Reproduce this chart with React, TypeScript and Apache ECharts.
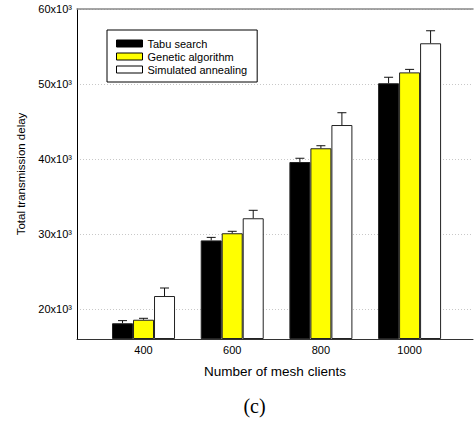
import React, { useEffect, useRef } from "react";
import * as echarts from "echarts";

const categories = [400, 600, 800, 1000];
const seriesNames = ["Tabu search", "Genetic algorithm", "Simulated annealing"];
const tabuValues = [18100, 29150, 39600, 50100];
const tabuErrors = [350, 400, 500, 800];
const gaValues = [18570, 30100, 41430, 51550];
const gaErrors = [190, 260, 340, 400];
const saValues = [21730, 32100, 44530, 55430];
const saErrors = [1070, 1060, 1640, 1670];
const yTicks = [20000, 30000, 40000, 50000, 60000];

const FONT = "'Liberation Sans', Arial, sans-serif";
const BAR_W = 21;

export default function App() {
  const ref = useRef<HTMLDivElement>(null);
  useEffect(() => {
    if (!ref.current) return;
    const chart = echarts.init(ref.current, undefined, { renderer: "svg" });
    const valuesList = [tabuValues, gaValues, saValues];
    const errorsList = [tabuErrors, gaErrors, saErrors];
    const fills = ["#000000", "#ffff00", "#ffffff"];
    const barSeries = seriesNames.map((name, i) => ({
      name,
      type: "bar",
      data: categories.map((c, j) => [c, valuesList[i][j]]),
      barWidth: BAR_W,
      barGap: "0%",
      clip: true,
      itemStyle: { color: fills[i], borderColor: "#222", borderWidth: 1 },
      z: 2,
    }));
    const errSeries = seriesNames.map((name, i) => ({
      type: "custom",
      name: name + " error",
      data: categories.map((c, j) => [c, valuesList[i][j], valuesList[i][j] + errorsList[i][j]]),
      z: 3,
      silent: true,
      renderItem: (params: any, api: any) => {
        const x = api.value(0);
        const p0 = api.coord([x, api.value(1)]);
        const p1 = api.coord([x, api.value(2)]);
        const cx = p0[0] + (i - 1) * BAR_W;
        const st = { stroke: "#111", lineWidth: 1 };
        return {
          type: "group",
          children: [
            { type: "line", shape: { x1: cx, y1: p0[1], x2: cx, y2: p1[1] }, style: st },
            { type: "line", shape: { x1: cx - 4.5, y1: p1[1], x2: cx + 4.5, y2: p1[1] }, style: st },
          ],
        };
      },
    }));
    chart.setOption({
      animation: false,
      textStyle: { fontFamily: FONT },
      grid: { left: 77, top: 9, right: 1, bottom: 82 },
      legend: {
        data: seriesNames,
        orient: "vertical",
        left: 107,
        top: 30,
        padding: [7, 10, 6, 9],
        itemGap: 0,
        itemWidth: 26,
        itemHeight: 7,
        itemStyle: { borderColor: "#000", borderWidth: 1 },
        icon: "rect",
        backgroundColor: "#fff",
        borderColor: "#000",
        borderWidth: 1,
        borderRadius: 0,
        textStyle: { fontFamily: FONT, fontSize: 11, color: "#000", lineHeight: 13 },
        itemTextGap: 5,
        selectedMode: false,
      },
      xAxis: [
        {
          type: "value",
          min: 250,
          max: 1143,
          name: "Number of mesh clients",
          nameLocation: "middle",
          nameGap: 25,
          nameTextStyle: { fontFamily: FONT, fontSize: 13.5, color: "#000" },
          axisLine: { show: true, onZero: false, lineStyle: { color: "#333", width: 1 } },
          axisTick: { show: false, customValues: categories },
          axisLabel: {
            customValues: categories,
            fontFamily: FONT,
            fontSize: 11,
            color: "#000",
            margin: 5,
            formatter: (v: number) => String(v),
          },
          splitLine: { show: false },
        },
        {
          type: "value",
          position: "top",
          min: 250,
          max: 1143,
          axisLine: { show: true, onZero: false, lineStyle: { color: "#888", width: 1.5 } },
          axisTick: { show: false },
          axisLabel: { show: false },
          splitLine: { show: false },
        },
      ],
      yAxis: {
        type: "value",
        min: 16000,
        max: 60000,
        startValue: 16000,
        name: "Total transmission delay",
        nameLocation: "middle",
        nameGap: 50,
        nameTextStyle: { fontFamily: FONT, fontSize: 11.5, color: "#000" },
        axisLine: { show: true, onZero: false, lineStyle: { color: "#000", width: 1 } },
        axisTick: { show: false, customValues: yTicks },
        axisLabel: {
          customValues: yTicks,
          fontFamily: FONT,
          fontSize: 11,
          color: "#000",
          margin: 5,
          formatter: (v: number) => `${Math.round(v / 1000)}x10³`,
        },
        splitLine: { show: true, lineStyle: { color: "#c8c8c8", type: [1, 2], width: 1 } },
      },
      graphic: [
        {
          type: "text",
          x: 254.5,
          y: 406,
          style: {
            text: "(c)",
            fontFamily: "'Liberation Serif', 'Times New Roman', serif",
            fontSize: 20,
            fill: "#000",
            align: "center",
            verticalAlign: "middle",
          },
        },
      ],
      series: [...barSeries, ...errSeries],
    });
    return () => chart.dispose();
  }, []);
  return (
    <div
      ref={ref}
      style={{ position: "fixed", left: 0, top: 0, width: 474, height: 421, background: "#fff" }}
    />
  );
}
